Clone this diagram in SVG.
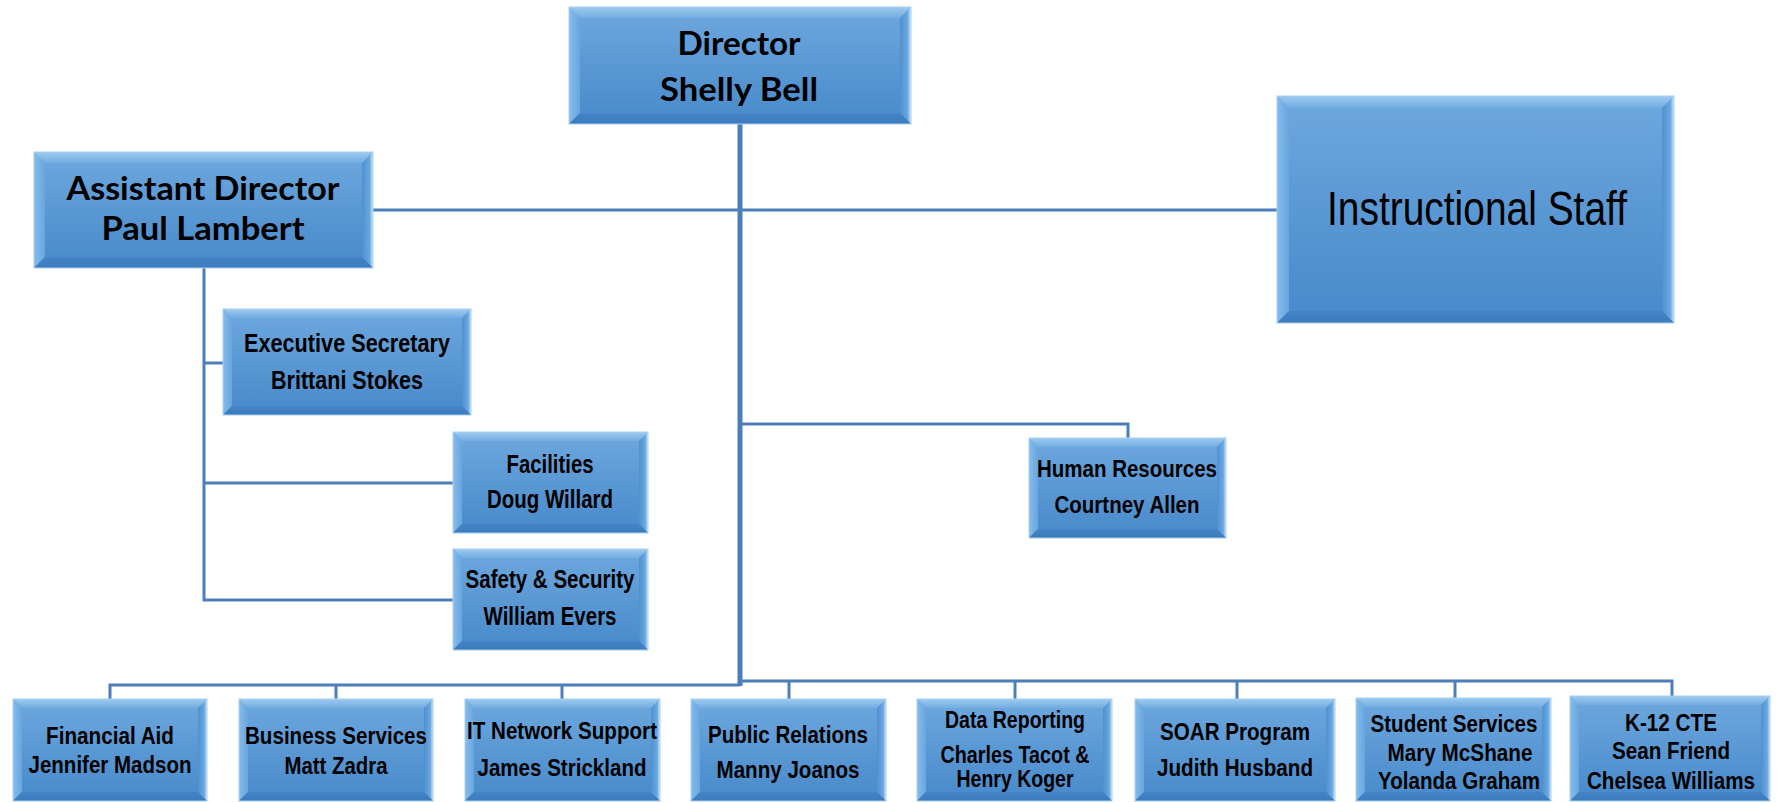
<svg xmlns="http://www.w3.org/2000/svg" width="1777" height="802" viewBox="0 0 1777 802">
<defs>
<linearGradient id="gFace" x1="0" y1="0" x2="0" y2="1">
<stop offset="0" stop-color="#6ea8de"/><stop offset="1" stop-color="#4789ca"/>
</linearGradient>
<linearGradient id="gTop" x1="0" y1="0" x2="0" y2="1">
<stop offset="0" stop-color="#9ccaee"/><stop offset="1" stop-color="#74ade2"/>
</linearGradient>
<linearGradient id="gLeft" x1="0" y1="0" x2="1" y2="0">
<stop offset="0" stop-color="#86bcea"/><stop offset="1" stop-color="#68a5df"/>
</linearGradient>
<linearGradient id="gRight" x1="0" y1="0" x2="1" y2="0">
<stop offset="0" stop-color="#4f90d0"/><stop offset="0.7" stop-color="#6aa8e0"/><stop offset="1" stop-color="#d8ecfa"/>
</linearGradient>
<linearGradient id="gBot" x1="0" y1="0" x2="0" y2="1">
<stop offset="0" stop-color="#4585c6"/><stop offset="1" stop-color="#3b7bbd"/>
</linearGradient>
</defs>
<style>
.face{fill:url(#gFace)}
.bt{fill:url(#gTop)}
.bl{fill:url(#gLeft)}
.br{fill:url(#gRight)}
.bb{fill:url(#gBot)}
.edge{fill:none;stroke:#a9cff0;stroke-width:1}
.ln{fill:none;stroke:#4c7fb9;stroke-width:3}
.main{fill:none;stroke:#4c7fb9;stroke-width:5}
.t1{font-family:Lato,"Open Sans",sans-serif;font-weight:bold;font-size:33px;fill:#000;text-anchor:middle}
.t2{font-family:"Liberation Sans",Arial,sans-serif;font-weight:bold;font-size:26px;fill:#000;text-anchor:middle}
.t3{font-family:"Liberation Sans",Arial,sans-serif;font-weight:bold;font-size:23px;fill:#000;text-anchor:middle}
.t4{font-family:"Liberation Sans",Arial,sans-serif;font-size:49px;fill:#000;text-anchor:middle}
</style>
<rect width="1777" height="802" fill="#ffffff"/>

<g id="connectors">
<path class="main" d="M740,124 V686"/>
<path class="ln" d="M373,210 H1277"/>
<path class="ln" d="M204,268 V600 H453"/>
<path class="ln" d="M204,363 H223"/>
<path class="ln" d="M204,483 H453"/>
<path class="ln" d="M740,424 H1128 V438"/>
<path class="ln" d="M110,699 V685 H740"/>
<path class="ln" d="M336,685 V699"/>
<path class="ln" d="M562,685 V699"/>
<path class="ln" d="M740,681 H1672 V696"/>
<path class="ln" d="M789,681 V699"/>
<path class="ln" d="M1015,681 V699"/>
<path class="ln" d="M1237,681 V699"/>
<path class="ln" d="M1455,681 V698"/>
</g>

<g id="director">
<rect class="face" x="569" y="7" width="342" height="117"/>
<polygon class="bt" points="569,7 911,7 900,18 580,18"/>
<polygon class="bl" points="569,7 580,18 580,113 569,124"/>
<polygon class="br" points="911,7 911,124 900,113 900,18"/>
<polygon class="bb" points="569,124 911,124 900,113 580,113"/>
<rect class="edge" x="569" y="7" width="342" height="117"/>
<text class="t1" x="739" y="55" textLength="123" lengthAdjust="spacingAndGlyphs">Director</text>
<text class="t1" x="739" y="101" textLength="158" lengthAdjust="spacingAndGlyphs">Shelly Bell</text>
</g>

<g id="assistant-director">
<rect class="face" x="34" y="152" width="339" height="116"/>
<polygon class="bt" points="34,152 373,152 362,163 45,163"/>
<polygon class="bl" points="34,152 45,163 45,257 34,268"/>
<polygon class="br" points="373,152 373,268 362,257 362,163"/>
<polygon class="bb" points="34,268 373,268 362,257 45,257"/>
<rect class="edge" x="34" y="152" width="339" height="116"/>
<text class="t1" x="203" y="200" textLength="273" lengthAdjust="spacingAndGlyphs">Assistant Director</text>
<text class="t1" x="203" y="240" textLength="203" lengthAdjust="spacingAndGlyphs">Paul Lambert</text>
</g>

<g id="instructional-staff">
<rect class="face" x="1277" y="96" width="397" height="227"/>
<polygon class="bt" points="1277,96 1674,96 1662,108 1289,108"/>
<polygon class="bl" points="1277,96 1289,108 1289,311 1277,323"/>
<polygon class="br" points="1674,96 1674,323 1662,311 1662,108"/>
<polygon class="bb" points="1277,323 1674,323 1662,311 1289,311"/>
<rect class="edge" x="1277" y="96" width="397" height="227"/>
<text class="t4" x="1477" y="225" textLength="300" lengthAdjust="spacingAndGlyphs">Instructional Staff</text>
</g>

<g id="executive-secretary">
<rect class="face" x="223" y="309" width="248" height="106"/>
<polygon class="bt" points="223,309 471,309 462,318 232,318"/>
<polygon class="bl" points="223,309 232,318 232,406 223,415"/>
<polygon class="br" points="471,309 471,415 462,406 462,318"/>
<polygon class="bb" points="223,415 471,415 462,406 232,406"/>
<rect class="edge" x="223" y="309" width="248" height="106"/>
<text class="t2" x="347" y="352" textLength="206" lengthAdjust="spacingAndGlyphs">Executive Secretary</text>
<text class="t2" x="347" y="389" textLength="152" lengthAdjust="spacingAndGlyphs">Brittani Stokes</text>
</g>

<g id="facilities">
<rect class="face" x="453" y="432" width="195" height="101"/>
<polygon class="bt" points="453,432 648,432 639,441 462,441"/>
<polygon class="bl" points="453,432 462,441 462,524 453,533"/>
<polygon class="br" points="648,432 648,533 639,524 639,441"/>
<polygon class="bb" points="453,533 648,533 639,524 462,524"/>
<rect class="edge" x="453" y="432" width="195" height="101"/>
<text class="t2" x="550" y="473" textLength="87" lengthAdjust="spacingAndGlyphs">Facilities</text>
<text class="t2" x="550" y="508" textLength="126" lengthAdjust="spacingAndGlyphs">Doug Willard</text>
</g>

<g id="safety-security">
<rect class="face" x="453" y="549" width="195" height="101"/>
<polygon class="bt" points="453,549 648,549 639,558 462,558"/>
<polygon class="bl" points="453,549 462,558 462,641 453,650"/>
<polygon class="br" points="648,549 648,650 639,641 639,558"/>
<polygon class="bb" points="453,650 648,650 639,641 462,641"/>
<rect class="edge" x="453" y="549" width="195" height="101"/>
<text class="t2" x="550" y="588" textLength="169" lengthAdjust="spacingAndGlyphs">Safety &amp; Security</text>
<text class="t2" x="550" y="625" textLength="133" lengthAdjust="spacingAndGlyphs">William Evers</text>
</g>

<g id="human-resources">
<rect class="face" x="1029" y="438" width="197" height="100"/>
<polygon class="bt" points="1029,438 1226,438 1217,447 1038,447"/>
<polygon class="bl" points="1029,438 1038,447 1038,529 1029,538"/>
<polygon class="br" points="1226,438 1226,538 1217,529 1217,447"/>
<polygon class="bb" points="1029,538 1226,538 1217,529 1038,529"/>
<rect class="edge" x="1029" y="438" width="197" height="100"/>
<text class="t3" x="1127" y="477" textLength="180" lengthAdjust="spacingAndGlyphs">Human Resources</text>
<text class="t3" x="1127" y="513" textLength="145" lengthAdjust="spacingAndGlyphs">Courtney Allen</text>
</g>

<g id="financial-aid">
<rect class="face" x="13" y="699" width="194" height="102"/>
<polygon class="bt" points="13,699 207,699 198,708 22,708"/>
<polygon class="bl" points="13,699 22,708 22,792 13,801"/>
<polygon class="br" points="207,699 207,801 198,792 198,708"/>
<polygon class="bb" points="13,801 207,801 198,792 22,792"/>
<rect class="edge" x="13" y="699" width="194" height="102"/>
<text class="t3" x="110" y="744" textLength="128" lengthAdjust="spacingAndGlyphs">Financial Aid</text>
<text class="t3" x="110" y="773" textLength="163" lengthAdjust="spacingAndGlyphs">Jennifer Madson</text>
</g>

<g id="business-services">
<rect class="face" x="239" y="699" width="194" height="102"/>
<polygon class="bt" points="239,699 433,699 424,708 248,708"/>
<polygon class="bl" points="239,699 248,708 248,792 239,801"/>
<polygon class="br" points="433,699 433,801 424,792 424,708"/>
<polygon class="bb" points="239,801 433,801 424,792 248,792"/>
<rect class="edge" x="239" y="699" width="194" height="102"/>
<text class="t3" x="336" y="744" textLength="182" lengthAdjust="spacingAndGlyphs">Business Services</text>
<text class="t3" x="336" y="774" textLength="103" lengthAdjust="spacingAndGlyphs">Matt Zadra</text>
</g>

<g id="it-network-support">
<rect class="face" x="465" y="699" width="195" height="102"/>
<polygon class="bt" points="465,699 660,699 651,708 474,708"/>
<polygon class="bl" points="465,699 474,708 474,792 465,801"/>
<polygon class="br" points="660,699 660,801 651,792 651,708"/>
<polygon class="bb" points="465,801 660,801 651,792 474,792"/>
<rect class="edge" x="465" y="699" width="195" height="102"/>
<text class="t3" x="562" y="739" textLength="190" lengthAdjust="spacingAndGlyphs">IT Network Support</text>
<text class="t3" x="562" y="776" textLength="169" lengthAdjust="spacingAndGlyphs">James Strickland</text>
</g>

<g id="public-relations">
<rect class="face" x="691" y="699" width="195" height="102"/>
<polygon class="bt" points="691,699 886,699 877,708 700,708"/>
<polygon class="bl" points="691,699 700,708 700,792 691,801"/>
<polygon class="br" points="886,699 886,801 877,792 877,708"/>
<polygon class="bb" points="691,801 886,801 877,792 700,792"/>
<rect class="edge" x="691" y="699" width="195" height="102"/>
<text class="t3" x="788" y="743" textLength="160" lengthAdjust="spacingAndGlyphs">Public Relations</text>
<text class="t3" x="788" y="778" textLength="143" lengthAdjust="spacingAndGlyphs">Manny Joanos</text>
</g>

<g id="data-reporting">
<rect class="face" x="917" y="699" width="195" height="102"/>
<polygon class="bt" points="917,699 1112,699 1103,708 926,708"/>
<polygon class="bl" points="917,699 926,708 926,792 917,801"/>
<polygon class="br" points="1112,699 1112,801 1103,792 1103,708"/>
<polygon class="bb" points="917,801 1112,801 1103,792 926,792"/>
<rect class="edge" x="917" y="699" width="195" height="102"/>
<text class="t3" x="1015" y="728" textLength="140" lengthAdjust="spacingAndGlyphs">Data Reporting</text>
<text class="t3" x="1015" y="763" textLength="149" lengthAdjust="spacingAndGlyphs">Charles Tacot &amp;</text>
<text class="t3" x="1015" y="787" textLength="117" lengthAdjust="spacingAndGlyphs">Henry Koger</text>
</g>

<g id="soar-program">
<rect class="face" x="1135" y="699" width="200" height="102"/>
<polygon class="bt" points="1135,699 1335,699 1326,708 1144,708"/>
<polygon class="bl" points="1135,699 1144,708 1144,792 1135,801"/>
<polygon class="br" points="1335,699 1335,801 1326,792 1326,708"/>
<polygon class="bb" points="1135,801 1335,801 1326,792 1144,792"/>
<rect class="edge" x="1135" y="699" width="200" height="102"/>
<text class="t3" x="1235" y="740" textLength="150" lengthAdjust="spacingAndGlyphs">SOAR Program</text>
<text class="t3" x="1235" y="776" textLength="156" lengthAdjust="spacingAndGlyphs">Judith Husband</text>
</g>

<g id="student-services">
<rect class="face" x="1356" y="698" width="195" height="103"/>
<polygon class="bt" points="1356,698 1551,698 1542,707 1365,707"/>
<polygon class="bl" points="1356,698 1365,707 1365,792 1356,801"/>
<polygon class="br" points="1551,698 1551,801 1542,792 1542,707"/>
<polygon class="bb" points="1356,801 1551,801 1542,792 1365,792"/>
<rect class="edge" x="1356" y="698" width="195" height="103"/>
<text class="t3" x="1454" y="732" textLength="167" lengthAdjust="spacingAndGlyphs">Student Services</text>
<text class="t3" x="1460" y="761" textLength="145" lengthAdjust="spacingAndGlyphs">Mary McShane</text>
<text class="t3" x="1459" y="789" textLength="162" lengthAdjust="spacingAndGlyphs">Yolanda Graham</text>
</g>

<g id="k12-cte">
<rect class="face" x="1570" y="696" width="200" height="105"/>
<polygon class="bt" points="1570,696 1770,696 1761,705 1579,705"/>
<polygon class="bl" points="1570,696 1579,705 1579,792 1570,801"/>
<polygon class="br" points="1770,696 1770,801 1761,792 1761,705"/>
<polygon class="bb" points="1570,801 1770,801 1761,792 1579,792"/>
<rect class="edge" x="1570" y="696" width="200" height="105"/>
<text class="t3" x="1671" y="731" textLength="92" lengthAdjust="spacingAndGlyphs">K-12 CTE</text>
<text class="t3" x="1671" y="759" textLength="118" lengthAdjust="spacingAndGlyphs">Sean Friend</text>
<text class="t3" x="1671" y="789" textLength="168" lengthAdjust="spacingAndGlyphs">Chelsea Williams</text>
</g>
</svg>
